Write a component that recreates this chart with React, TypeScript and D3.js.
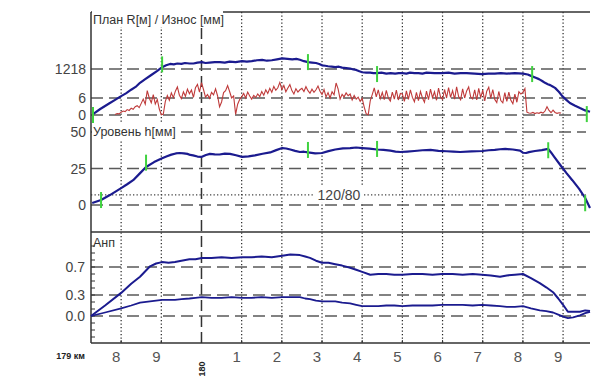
import React from "react";
import * as d3 from "d3";

// ---------- DATA ----------
// positions are metres after km 179
const xTickPos = [800, 900, 1000, 1100, 1200, 1300, 1400, 1500, 1600, 1700, 1800, 1900];
const xTickLabels = ["8", "9", "180", "1", "2", "3", "4", "5", "6", "7", "8", "9"];

// Plan (relative curvature, 1 = R 1218 m)
const planPos = [730, 748, 770, 785, 800, 812, 825, 836, 847, 860, 875, 890, 902, 912, 922, 931, 940, 950, 959, 970, 980, 990, 1001, 1010, 1020, 1033, 1046, 1058, 1070, 1085, 1101, 1113, 1125, 1138, 1151, 1163, 1175, 1188, 1201, 1214, 1226, 1236, 1245, 1255, 1265, 1275, 1285, 1293, 1300, 1308, 1315, 1324, 1333, 1342, 1350, 1360, 1370, 1378, 1385, 1393, 1400, 1410, 1420, 1428, 1437, 1448, 1460, 1471, 1482, 1491, 1500, 1510, 1519, 1530, 1540, 1550, 1560, 1580, 1599, 1615, 1630, 1645, 1660, 1680, 1698, 1714, 1730, 1745, 1760, 1780, 1800, 1812, 1823, 1832, 1840, 1848, 1855, 1862, 1868, 1874, 1880, 1890, 1898, 1908, 1917, 1930, 1942, 1955, 1967];
const planVal = [0.02, 0.13, 0.25, 0.33, 0.41, 0.47, 0.55, 0.61, 0.7, 0.78, 0.87, 0.96, 1.04, 1.08, 1.11, 1.1, 1.12, 1.11, 1.13, 1.12, 1.12, 1.14, 1.15, 1.13, 1.14, 1.15, 1.15, 1.14, 1.16, 1.15, 1.17, 1.16, 1.17, 1.19, 1.2, 1.18, 1.19, 1.21, 1.23, 1.22, 1.21, 1.22, 1.2, 1.17, 1.15, 1.14, 1.13, 1.11, 1.08, 1.07, 1.06, 1.05, 1.04, 1.05, 1.03, 1.02, 1.01, 0.99, 0.98, 0.95, 0.93, 0.92, 0.92, 0.91, 0.91, 0.92, 0.9, 0.91, 0.9, 0.91, 0.91, 0.9, 0.92, 0.91, 0.91, 0.9, 0.92, 0.91, 0.91, 0.92, 0.9, 0.91, 0.91, 0.9, 0.89, 0.9, 0.9, 0.91, 0.9, 0.91, 0.9, 0.88, 0.84, 0.81, 0.78, 0.74, 0.7, 0.67, 0.65, 0.62, 0.59, 0.5, 0.41, 0.33, 0.26, 0.2, 0.15, 0.1, 0.07];

// Wear [mm], one value every 5 m starting at 785 m
const wearStart = 785;
const wearStep = 5;
const wearVal = [
  0.2, 0.5, 0.4, 1.0, 1.4, 1.2, 1.9, 1.6, 2.4, 2.0, 2.9, 3.3, 2.6, 4.1, 5.6, 3.8, 8.6, 6.0, 4.3, 7.2, 3.9, 5.5, 2.1, 0.1,
  0.3, 4.8, 6.9, 5.2, 7.8, 6.1, 8.4, 9.9, 7.0, 5.8, 8.2, 6.6, 9.1, 7.5, 8.8, 6.2, 9.6, 10.8, 8.1, 11.4, 9.0, 6.3, 7.2, 5.9, 8.0, 7.1, 9.2, 6.8, 2.9, 4.6, 7.9, 8.6, 10.4, 8.3, 6.0, 6.7,
  0.2, 3.8, 5.5,
  6.4, 7.6, 6.0, 8.1, 6.7, 5.6, 6.9, 6.2, 7.4, 6.5, 8.3, 7.0, 8.9, 7.6, 9.4, 8.0, 10.1, 8.7, 9.6, 11.5, 9.0, 10.4, 8.2, 9.5, 10.7, 8.6, 7.4, 9.3, 8.1, 8.9,
  9.4, 8.3, 10.0, 8.6, 7.7, 9.1, 8.0, 8.9, 10.2, 8.4, 7.2, 9.0, 6.4, 7.9, 6.0, 8.2, 7.1, 11.3, 9.2, 5.6, 7.3, 6.4, 7.8, 6.8, 7.4, 5.3, 6.9, 5.6, 6.3, 4.8, 5.9, 2.8, 0.4, 0.1,
  5.0, 7.2, 9.6, 6.4, 8.9, 5.8, 8.0, 5.4, 8.7, 6.0,
  4.9, 8.1, 5.6, 8.8, 5.3, 7.6, 7.4, 4.8, 8.5, 5.5,
  8.9, 6.2, 4.7, 8.0, 5.1, 8.3, 6.0, 4.5, 8.4, 5.4,
  9.1, 6.1, 8.2, 5.2, 9.5, 6.3, 5.5, 9.0, 6.0, 9.7,
  6.2, 8.6, 5.6, 9.9, 6.5, 5.4, 9.2, 6.0, 8.5, 9.9,
  6.4, 5.7, 8.9, 5.3, 9.4, 6.1, 8.8, 5.0, 8.4, 9.8,
  5.9, 9.0, 5.5, 4.4, 8.3, 5.1, 4.3, 7.9, 4.8, 8.1,
  5.2, 4.0, 7.4, 4.5, 8.2, 7.4, 8.0, 9.3,
  1.0, 0.7, 0.6, 0.9, 0.5, 0.8, 0.6, 1.0, 0.7, 1.4, 2.9, 1.6, 0.8, 1.7, 0.9, 0.6, 0.8, 0.7
];

// Level h [mm]
const levelPos = [728, 750, 772, 800, 815, 830, 846, 862, 882, 902, 914, 925, 936, 946, 956, 965, 972, 979, 990, 1001, 1011, 1021, 1033, 1045, 1058, 1071, 1086, 1101, 1117, 1133, 1152, 1171, 1186, 1201, 1211, 1221, 1233, 1245, 1255, 1265, 1283, 1300, 1316, 1333, 1352, 1370, 1385, 1400, 1418, 1437, 1453, 1470, 1483, 1495, 1512, 1530, 1550, 1570, 1590, 1610, 1627, 1644, 1672, 1699, 1715, 1730, 1743, 1756, 1775, 1793, 1800, 1808, 1815, 1830, 1847, 1863, 1870, 1878, 1893, 1908, 1923, 1940, 1955, 1967];
const levelVal = [1.4, 3.4, 6.8, 11.6, 14.2, 17, 21.5, 26, 29.4, 32, 33.4, 34.5, 35.3, 35.6, 35.4, 35, 34.3, 34, 33.2, 33, 34.2, 35, 34.7, 34.6, 35.2, 35, 34.1, 33, 33.3, 34, 35.1, 36, 37.6, 39, 38.7, 38, 37.1, 36.3, 36.5, 36, 35.4, 35.6, 36.9, 38, 38.8, 39, 39.4, 39, 38.6, 38, 37.7, 37.2, 36.6, 36.3, 36.6, 37, 37.5, 37.7, 37.1, 36.8, 36.5, 36.3, 36.7, 37, 37.5, 37.8, 38.2, 38.4, 38, 37.3, 35.8, 35.6, 36.2, 37, 37.6, 38.4, 36, 33, 27.4, 22, 17, 11, 4.8, -2];

// Анп upper / lower
const anpPos = [725, 760, 800, 825, 847, 872, 887, 902, 918, 934, 950, 970, 985, 1001, 1025, 1050, 1075, 1101, 1125, 1150, 1175, 1201, 1221, 1245, 1258, 1270, 1285, 1300, 1316, 1333, 1350, 1370, 1385, 1400, 1420, 1440, 1460, 1480, 1500, 1525, 1550, 1575, 1599, 1625, 1650, 1675, 1698, 1720, 1743, 1760, 1780, 1800, 1820, 1842, 1858, 1875, 1888, 1900, 1912, 1925, 1942, 1955, 1967];
const anpUpper = [0, 0.15, 0.33, 0.46, 0.56, 0.71, 0.75, 0.77, 0.76, 0.77, 0.79, 0.81, 0.81, 0.83, 0.83, 0.84, 0.83, 0.84, 0.84, 0.85, 0.84, 0.86, 0.88, 0.87, 0.85, 0.83, 0.79, 0.76, 0.76, 0.74, 0.72, 0.69, 0.66, 0.63, 0.59, 0.6, 0.6, 0.59, 0.59, 0.6, 0.6, 0.59, 0.6, 0.6, 0.59, 0.6, 0.59, 0.58, 0.56, 0.58, 0.59, 0.6, 0.54, 0.47, 0.41, 0.34, 0.25, 0.16, 0.06, 0.06, 0.06, 0.08, 0.07];
const anpLower = [0, 0.05, 0.11, 0.15, 0.19, 0.21, 0.22, 0.23, 0.23, 0.23, 0.24, 0.25, 0.26, 0.27, 0.26, 0.26, 0.27, 0.26, 0.26, 0.27, 0.26, 0.27, 0.27, 0.27, 0.25, 0.24, 0.22, 0.21, 0.21, 0.21, 0.19, 0.18, 0.16, 0.14, 0.14, 0.14, 0.15, 0.15, 0.14, 0.15, 0.15, 0.15, 0.16, 0.16, 0.16, 0.15, 0.16, 0.15, 0.14, 0.13, 0.13, 0.14, 0.11, 0.08, 0.07, 0.05, 0.02, -0.01, -0.03, -0.02, 0.01, 0.04, 0.06];

// Green markers
const planMarkPos = [730, 902, 1265, 1437, 1823, 1959];
const planMarkVal = [0, 1.1, 1.15, 0.89, 0.89, 0.02];
const levelMarkPos = [750, 862, 1265, 1437, 1863, 1955];
const levelMarkVal = [3.4, 29, 37.7, 38.4, 37.5, 1.2];

// Y tick labels
const planTicks = [1];
const planTickLabels = ["1218"];
const wearTicks = [6, 0];
const wearTickLabels = ["6", "0"];
const levelTicks = [50, 25, 0];
const levelTickLabels = ["50", "25", "0"];
const anpTicks = [0.7, 0.3, 0.0];
const anpTickLabels = ["0.7", "0.3", "0.0"];
const normValue = 7; // 120/80 dotted line (mm)
const normLabel = "120/80";

// ---------- LAYOUT ----------
const W = 605, H = 379;
const L = 91, R = 590;
const TOP = 12, P3TOP = 232, BOTTOM = 343;
const FONT = "'Liberation Sans', Arial, sans-serif";
const GRID = "#5a5a5a";
const BLUE = "#1b1b8f";
const RED = "#bf3a3a";
const GREEN = "#3fd23f";
const TXT = "#444";

export default function App() {
  const x = d3.scaleLinear().domain([725, 1967]).range([L, R]);
  const yPlan = d3.scaleLinear().domain([0, 1]).range([115, 69]);
  const yWear = d3.scaleLinear().domain([0, 6]).range([115, 98]);
  const yLevel = d3.scaleLinear().domain([0, 50]).range([205, 132]);
  const yAnp = d3.scaleLinear().domain([0, 1]).range([316, 246]);

  const line = (pos: number[], vals: number[], ys: d3.ScaleLinear<number, number>) =>
    d3.line<number>().x((_, i) => x(pos[i])).y((v) => ys(v))(vals) || "";
  const wearPath =
    d3.line<number>().x((_, i) => x(wearStart + i * wearStep)).y((v) => yWear(v))(wearVal) || "";

  const hDash = (y: number, key: string) => (
    <line key={key} x1={L} x2={R - 4} y1={y} y2={y} stroke={GRID} strokeWidth={1.3} strokeDasharray="12,6" />
  );

  const minorTicks = d3.range(-3, 11).map((k) => k / 10);

  return (
    <svg width={W} height={H} style={{ position: "absolute", left: 0, top: 0, background: "#fff" }}>
      <rect x={0} y={0} width={W} height={H} fill="#fff" />
      {/* vertical grid */}
      {xTickPos.map((p, i) =>
        i === 2 ? (
          <line key={"v" + i} x1={x(p)} x2={x(p)} y1={TOP} y2={BOTTOM} stroke="#333" strokeWidth={1.5} strokeDasharray="11,5" />
        ) : (
          <line key={"v" + i} x1={x(p)} x2={x(p)} y1={TOP} y2={BOTTOM} stroke="#222" strokeWidth={1.2} strokeDasharray="1.3,2.2" />
        )
      )}
      {/* horizontal dashed grid */}
      {planTicks.map((t, i) => hDash(yPlan(t), "p" + i))}
      {wearTicks.map((t, i) => hDash(yWear(t), "w" + i))}
      {levelTicks.map((t, i) => hDash(yLevel(t), "l" + i))}
      {anpTicks.map((t, i) => hDash(yAnp(t), "a" + i))}
      <line x1={L} x2={R - 4} y1={yLevel(normValue)} y2={yLevel(normValue)} stroke="#444" strokeWidth={1.2} strokeDasharray="1.3,2.2" />
      <rect x={314} y={yLevel(normValue) - 8} width={50} height={16} fill="#fff" />
      <text x={339} y={yLevel(normValue) + 5} textAnchor="middle" fontFamily={FONT} fontSize={14} fill={TXT}>{normLabel}</text>

      {/* frame */}
      <line x1={L} x2={L} y1={TOP} y2={BOTTOM} stroke="#333" strokeWidth={1.5} />
      <line x1={L} x2={R} y1={TOP} y2={TOP} stroke="#333" strokeWidth={1.5} />
      <line x1={L} x2={R} y1={P3TOP} y2={P3TOP} stroke="#333" strokeWidth={1.5} />
      <line x1={L} x2={R} y1={BOTTOM} y2={BOTTOM} stroke="#333" strokeWidth={1.5} />
      {xTickPos.map((p, i) => (
        <line key={"bt" + i} x1={x(p)} x2={x(p)} y1={BOTTOM} y2={BOTTOM - 3} stroke="#333" strokeWidth={1} />
      ))}
      {minorTicks.map((t, i) => (
        <line key={"mt" + i} x1={L} x2={L + 4} y1={yAnp(t)} y2={yAnp(t)} stroke="#333" strokeWidth={1} />
      ))}

      {/* panel titles */}
      <rect x={L + 1} y={TOP - 2} width={131} height={17} fill="#fff" />
      <text x={L + 2} y={TOP + 12} fontFamily={FONT} fontSize={12.5} fill="#333">План R[м] / Износ [мм]</text>
      <rect x={L + 1} y={124} width={84} height={16} fill="#fff" />
      <text x={L + 2} y={136} fontFamily={FONT} fontSize={12.5} fill="#333">Уровень h[мм]</text>
      <text x={L + 2} y={247} fontFamily={FONT} fontSize={12.5} fill="#333">Анп</text>

      {/* series */}
      <path d={wearPath} fill="none" stroke={RED} strokeWidth={1.1} />
      <path d={line(planPos, planVal, yPlan)} fill="none" stroke={BLUE} strokeWidth={2.2} strokeLinejoin="round" />
      <path d={line(levelPos, levelVal, yLevel)} fill="none" stroke={BLUE} strokeWidth={2.2} strokeLinejoin="round" />
      <path d={line(anpPos, anpUpper, yAnp)} fill="none" stroke={BLUE} strokeWidth={2} strokeLinejoin="round" />
      <path d={line(anpPos, anpLower, yAnp)} fill="none" stroke={BLUE} strokeWidth={1.8} strokeLinejoin="round" />

      {/* markers */}
      {planMarkPos.map((p, i) => (
        <line key={"pm" + i} x1={x(p)} x2={x(p)} y1={yPlan(planMarkVal[i]) - 8} y2={yPlan(planMarkVal[i]) + 8} stroke={GREEN} strokeWidth={2} />
      ))}
      {levelMarkPos.map((p, i) => (
        <line key={"lm" + i} x1={x(p)} x2={x(p)} y1={yLevel(levelMarkVal[i]) - 8} y2={yLevel(levelMarkVal[i]) + 8} stroke={GREEN} strokeWidth={2} />
      ))}

      {/* y labels */}
      {planTicks.map((t, i) => (
        <text key={"pl" + i} x={86} y={yPlan(t) + 5} textAnchor="end" fontFamily={FONT} fontSize={14} fill={TXT}>{planTickLabels[i]}</text>
      ))}
      {wearTicks.map((t, i) => (
        <text key={"wl" + i} x={86} y={yWear(t) + 5} textAnchor="end" fontFamily={FONT} fontSize={14} fill={TXT}>{wearTickLabels[i]}</text>
      ))}
      {levelTicks.map((t, i) => (
        <text key={"ll" + i} x={86} y={yLevel(t) + 5} textAnchor="end" fontFamily={FONT} fontSize={14} fill={TXT}>{levelTickLabels[i]}</text>
      ))}
      {anpTicks.map((t, i) => (
        <text key={"al" + i} x={85} y={yAnp(t) + 5} textAnchor="end" fontFamily={FONT} fontSize={14} fill={TXT}>{anpTickLabels[i]}</text>
      ))}

      {/* x labels */}
      <text x={85} y={359} textAnchor="end" fontFamily={FONT} fontSize={9} fontWeight="bold" fill="#222">179 км</text>
      {xTickPos.map((p, i) =>
        i === 2 ? (
          <text key={"xl" + i} transform={`translate(${x(p) + 4},${369}) rotate(-90)`} textAnchor="middle" fontFamily={FONT} fontSize={9} fontWeight="bold" fill="#222">{xTickLabels[i]}</text>
        ) : (
          <text key={"xl" + i} x={x(p) - 5} y={362} textAnchor="middle" fontFamily={FONT} fontSize={15} fill="#555">{xTickLabels[i]}</text>
        )
      )}
    </svg>
  );
}
